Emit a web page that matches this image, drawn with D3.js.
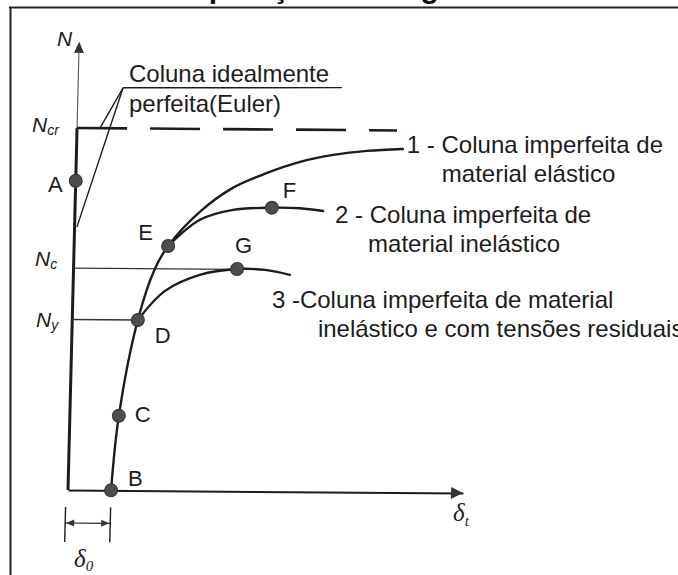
<!DOCTYPE html>
<html>
<head>
<meta charset="utf-8">
<script src="https://cdn.jsdelivr.net/npm/d3@7"></script>
<style>
  html, body { margin: 0; padding: 0; background: #fff; }
  svg { display: block; }
</style>
</head>
<body>
<svg id="chart" width="678" height="575"></svg>
<script>
// ---- data: load N versus lateral deflection δt (N in % of Ncr) ----
const NCR = 100;        // Euler critical load
const NC = 61.3;        // peak load, column with residual stresses
const NY = 47.1;        // load at first yield
const DELTA0 = 10.9;    // initial out-of-straightness δ0
const AXIS_TOP = 123.8; // top of the N axis
const AXIS_RIGHT = 100; // end of the δt axis
const NCR_END = 81;     // end of the dashed Euler level

// 1 - imperfect column, elastic material
const curveElastic = [
  [10.9, 0], [12.4, 20.6], [16.6, 47.1], [20.6, 61.3], [23.8, 67.6],
  [31.6, 77.1], [39.8, 83.8], [48.4, 88.0], [56.7, 91.1], [65.0, 93.1],
  [73.5, 94.3], [82.6, 94.9]
];
// 2 - imperfect column, inelastic material (branches at E)
const curveInelastic = [
  [23.8, 67.6], [31.7, 74.9], [40.0, 77.7], [49.8, 78.4], [56.9, 78.3], [62.8, 77.6]
];
// 3 - inelastic material with residual stresses (branches at D)
const curveResidual = [
  [16.6, 47.1], [23.3, 55.2], [32.0, 59.7], [41.4, 61.4], [48.5, 61.2], [54.8, 59.9]
];

// marked points
const pointNames = ["A", "B", "C", "D", "E", "F", "G"];
const pointDelta = [0, 10.9, 12.4, 16.6, 23.8, 49.8, 41.4];
const pointLoad  = [85.4, 0, 20.6, 47.1, 67.6, 78.4, 61.4];

// Euler note: anchor of the leaders and their two ends
const eulerAnchor = [11.4, 111.2];
const eulerLeaders = [[5.8, NCR], [0.6, 72.7]];
const eulerUnderlineEnd = [66.8, 111.7];

// texts
const titleText = "Comparação de carga axial";
const eulerLines = ["Coluna idealmente", "perfeita(Euler)"];
const seriesLines = [
  ["1 - Coluna imperfeita de", "material elástico"],
  ["2 - Coluna imperfeita de", "material inelástico"],
  ["3 -Coluna imperfeita de material", "inelástico e com tensões residuais"]
];

// ---- drawing ----
const FONT = "'Liberation Sans', Arial, Helvetica, sans-serif";
const SERIF = "'Liberation Serif', 'Times New Roman', serif";
const INK = "#1c1c1c";
const DOT = "#4d4d4d";

const svg = d3.select("#chart");

// page frame and the heading above it (runs off the top edge)
svg.append("line").attr("x1", 9).attr("x2", 678).attr("y1", 7.5).attr("y2", 7.5)
  .attr("stroke", "#222").attr("stroke-width", 2);
svg.append("line").attr("x1", 10.5).attr("x2", 10.5).attr("y1", 7).attr("y2", 575)
  .attr("stroke", "#222").attr("stroke-width", 2);
svg.append("text").attr("x", 142).attr("y", -2.5)
  .attr("font-family", FONT).attr("font-weight", "bold").attr("font-size", 30)
  .attr("fill", "#111").text(titleText);

// scales; the plot frame is slightly sheared like the printed figure
const x = d3.scaleLinear().domain([0, 100]).range([0, 395]);
const y = d3.scaleLinear().domain([0, 100]).range([0, -362]);
const M = { a: 1, b: 0.0076, c: -0.025, d: 1, e: 68, f: 490 };
const toScreen = (dv, nv) => [
  M.a * x(dv) + M.c * y(nv) + M.e,
  M.b * x(dv) + M.d * y(nv) + M.f
];

const plot = svg.append("g")
  .attr("transform", `matrix(${M.a},${M.b},${M.c},${M.d},${M.e},${M.f})`);

const seg = (p, q, w, dash) => {
  const l = plot.append("line")
    .attr("x1", x(p[0])).attr("y1", y(p[1]))
    .attr("x2", x(q[0])).attr("y2", y(q[1]))
    .attr("stroke", INK).attr("stroke-width", w).attr("stroke-linecap", "butt");
  if (dash) l.attr("stroke-dasharray", dash);
  return l;
};

// δt axis (domain line of a tickless bottom axis)
const xAxis = plot.append("g").call(
  d3.axisBottom(x).tickValues([]).tickSizeOuter(0)
);
xAxis.select(".domain").attr("stroke", INK).attr("stroke-width", 2);
plot.append("path")
  .attr("d", `M${x(AXIS_RIGHT)},0 L${x(AXIS_RIGHT) - 12},-6 L${x(AXIS_RIGHT) - 12},6 Z`)
  .attr("fill", "#333");

// N axis: heavy up to Ncr, thin above
seg([0, 0], [0, NCR], 3);
seg([0, NCR], [0, AXIS_TOP - 3], 1.1).attr("stroke", "#555");
plot.append("path")
  .attr("d", `M${x(0)},${y(AXIS_TOP)} L${x(0) - 5},${y(AXIS_TOP) + 11} L${x(0) + 5},${y(AXIS_TOP) + 11} Z`)
  .attr("fill", "#333");

// Euler level (dashed) and Nc / Ny reference lines
seg([0, NCR], [NCR_END, NCR], 2.6, "50,23");
seg([0, NC], [pointDelta[6], NC], 1.3).attr("stroke", "#333");
seg([0, NY], [pointDelta[3], NY], 1.3).attr("stroke", "#333");

// Euler note leaders
eulerLeaders.forEach(p => seg(eulerAnchor, p, 1.4));
seg(eulerAnchor, eulerUnderlineEnd, 1.4);

// curves
const line = d3.line().x(d => x(d[0])).y(d => y(d[1])).curve(d3.curveCatmullRom.alpha(0.5));
[curveElastic, curveInelastic, curveResidual].forEach(c => {
  plot.append("path").attr("d", line(c))
    .attr("fill", "none").attr("stroke", INK).attr("stroke-width", 2.4)
    .attr("stroke-linecap", "round");
});

// δ0 dimension
const dimTop = 17, dimBot = 52, dimY = 33;
plot.append("line").attr("x1", x(0) - 2).attr("x2", x(0) - 2).attr("y1", dimTop).attr("y2", dimBot)
  .attr("stroke", INK).attr("stroke-width", 1.4);
plot.append("line").attr("x1", x(DELTA0)).attr("x2", x(DELTA0)).attr("y1", dimTop).attr("y2", dimBot)
  .attr("stroke", INK).attr("stroke-width", 1.4);
plot.append("line").attr("x1", x(0) - 2).attr("x2", x(DELTA0)).attr("y1", dimY).attr("y2", dimY)
  .attr("stroke", INK).attr("stroke-width", 1.2);
plot.append("path")
  .attr("d", `M${x(0) - 1},${dimY} l8,-3.5 l0,7 Z M${x(DELTA0) - 1},${dimY} l-8,-3.5 l0,7 Z`)
  .attr("fill", "#333");

// marked points
plot.selectAll("circle.pt").data(pointNames).join("circle")
  .attr("class", "pt")
  .attr("cx", (d, i) => x(pointDelta[i]))
  .attr("cy", (d, i) => y(pointLoad[i]))
  .attr("r", 6.5)
  .attr("fill", DOT).attr("stroke", "#333").attr("stroke-width", 1);

// point letters, placed beside their dots
const letterOffset = {
  A: [-13, 11, "end"], B: [17, -4, "start"], C: [16, 6, "start"], D: [17, 23, "start"],
  E: [-30, -6, "start"], F: [11, -10, "start"], G: [-2, -16, "start"]
};
pointNames.forEach((n, i) => {
  const [sx, sy] = toScreen(pointDelta[i], pointLoad[i]);
  const o = letterOffset[n];
  svg.append("text").attr("x", sx + o[0]).attr("y", sy + o[1])
    .attr("text-anchor", o[2])
    .attr("font-family", FONT).attr("font-size", 22).attr("fill", INK).text(n);
});

// axis symbols
const ital = (xp, yp, main, sub, size, subSize, family, subDy) => {
  const t = svg.append("text").attr("x", xp).attr("y", yp)
    .attr("font-family", family).attr("font-style", "italic")
    .attr("font-size", size).attr("fill", INK);
  t.append("tspan").text(main);
  if (sub) t.append("tspan").attr("font-size", subSize).attr("dy", subDy).text(sub);
  return t;
};
ital(57, 46, "N", null, 21, 0, FONT, 0);
{
  const [, syCr] = toScreen(0, NCR);
  const [, syC] = toScreen(0, NC);
  const [, syY] = toScreen(0, NY);
  ital(32, syCr + 4, "N", "cr", 21, 14, FONT, 3);
  ital(35, syC - 2, "N", "c", 21, 14, FONT, 3);
  ital(36, syY + 8, "N", "y", 21, 14, FONT, 3);
}
ital(453, 521, "δ", "t", 25, 15, SERIF, 5);
ital(74, 567, "δ", "0", 25, 15, SERIF, 4);

// Euler note text
svg.append("text").attr("x", 129).attr("y", 82)
  .attr("font-family", FONT).attr("font-size", 24).attr("fill", INK).text(eulerLines[0]);
svg.append("text").attr("x", 129).attr("y", 112)
  .attr("font-family", FONT).attr("font-size", 24).attr("fill", INK).text(eulerLines[1]);

// series captions, hung from the curve ends
const captionOffset = [[4, 4, 35], [12, 12, 33], [-18, 33, 46]];
[curveElastic, curveInelastic, curveResidual].forEach((c, i) => {
  const end = c[c.length - 1];
  const [sx, sy] = toScreen(end[0], end[1]);
  const o = captionOffset[i];
  svg.append("text").attr("x", sx + o[0]).attr("y", sy + o[1])
    .attr("font-family", FONT).attr("font-size", 24).attr("fill", INK).text(seriesLines[i][0]);
  svg.append("text").attr("x", sx + o[0] + o[2]).attr("y", sy + o[1] + 29)
    .attr("font-family", FONT).attr("font-size", 24).attr("fill", INK).text(seriesLines[i][1]);
});
</script>
</body>
</html>
